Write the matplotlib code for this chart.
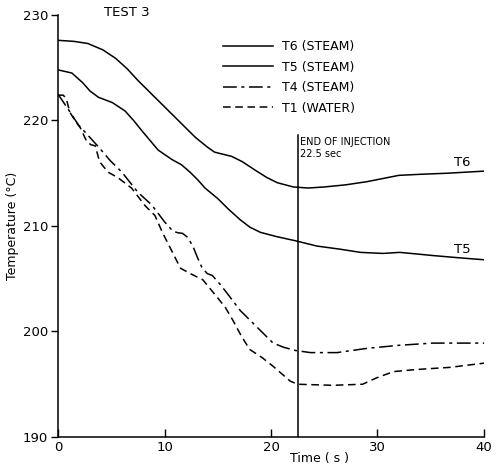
import matplotlib
matplotlib.use("Agg")
import matplotlib.pyplot as plt

plt.rcParams['font.family'] = ['DejaVu Sans']

# ---- data ----
t6 = [0, 1.5, 2.8, 4.2, 5.4, 6.5, 7.5, 8.8, 10.0, 11.5, 12.9, 14.0, 14.7, 15.5,
      16.3, 17.3, 18.5, 19.6, 20.6, 22.1, 23.5, 25, 27, 29, 30.5, 32, 34, 36.5, 40]
T6 = [227.6, 227.5, 227.3, 226.7, 225.9, 224.9, 223.8, 222.5, 221.3, 219.8, 218.4,
      217.5, 217.0, 216.8, 216.6, 216.1, 215.3, 214.6, 214.1, 213.7, 213.6, 213.7,
      213.9, 214.2, 214.5, 214.8, 214.9, 215.0, 215.2]

t5 = [0, 1.3, 2.3, 3.0, 3.8, 5.1, 6.3, 7.1, 7.9, 9.4, 10.7, 11.6, 12.4, 13.1, 13.8,
      15.0, 16.0, 17.1, 18.0, 19.0, 20.5, 22.3, 24.3, 26.5, 28.4, 30.5, 32.1, 35.2,
      37.5, 40]
T5 = [224.8, 224.5, 223.6, 222.8, 222.2, 221.7, 220.9, 220.0, 219.0, 217.2, 216.3,
      215.8, 215.1, 214.4, 213.6, 212.6, 211.6, 210.6, 209.9, 209.4, 209.0, 208.6,
      208.1, 207.8, 207.5, 207.4, 207.5, 207.2, 207.0, 206.8]

t4 = [0, 1.0, 1.9, 2.9, 3.8, 4.9, 6.0, 7.5, 8.8, 10.0, 10.8, 11.3, 11.7, 12.2, 12.7,
      13.1, 13.5, 14.0, 14.5, 15.2, 15.9, 17.1, 18.7, 19.5, 20.2, 21.2, 22.3, 23.7,
      26.2, 29.0, 32.1, 35.2, 40]
T4 = [222.5, 221.0, 219.6, 218.5, 217.5, 216.2, 215.1, 213.2, 212.0, 210.4, 209.5,
      209.35, 209.3, 208.9, 208.0, 207.0, 206.1, 205.5, 205.3, 204.5, 203.6, 202.0,
      200.4, 199.6, 198.9, 198.5, 198.2, 198.0, 198.0, 198.4, 198.7, 198.9, 198.9]

t1 = [0, 0.5, 0.8, 1.1, 1.6, 2.1, 2.7, 3.1, 3.5, 3.9, 4.7, 5.6, 6.9, 8.2, 9.1, 9.8,
      10.5, 11.0, 11.5, 12.4, 13.6, 14.9, 15.7, 16.4, 17.2, 18.0, 19.2, 20.2, 21.0,
      21.8, 22.5, 25.8, 28.6, 29.9, 31.5, 33.7, 36.8, 40]
T1 = [222.4, 222.4, 222.0, 220.8, 220.0, 219.3, 218.0, 217.7, 217.6, 216.1, 215.1,
      214.6, 213.6, 211.9, 211.0, 209.4, 208.0, 207.0, 206.0, 205.5, 204.9, 203.3,
      202.3, 201.1, 199.6, 198.3, 197.5, 196.7, 196.0, 195.3, 195.0, 194.9, 195.0,
      195.6, 196.2, 196.4, 196.6, 197.0]

labels = ["T6 (STEAM)", "T5 (STEAM)", "T4 (STEAM)", "T1 (WATER)"]
x_ticks = [0, 10, 20, 30, 40]
y_ticks = [190, 200, 210, 220, 230]
injection_end = 22.5

# ---- figure ----
fig = plt.figure(figsize=(4.97, 4.69), dpi=100)
ax = fig.add_axes([58/497, 1 - 437/469, 426/497, 422/469])

lw = 1.1
ax.plot(t6, T6, color='black', lw=lw, label=labels[0])
ax.plot(t5, T5, color='black', lw=lw, label=labels[1])
ax.plot(t4, T4, color='black', lw=lw, dashes=(9, 3, 2, 3), label=labels[2])
ax.plot(t1, T1, color='black', lw=lw, dashes=(5, 3), label=labels[3])

ax.plot([injection_end, injection_end], [190, 218.6], color='black', lw=1.1)
ax.text(injection_end + 0.2, 218.0, "END OF INJECTION", fontsize=7, va='center', ha='left')
ax.text(injection_end + 0.2, 216.8, "22.5 sec", fontsize=7, va='center', ha='left')

ax.text(37.2, 216.0, "T6", fontsize=9.5, va='center', ha='left')
ax.text(37.2, 207.8, "T5", fontsize=9.5, va='center', ha='left')
ax.text(6.5, 230.2, "TEST 3", fontsize=9.5, va='center', ha='center')

ax.set_xlim(0, 40)
ax.set_ylim(190, 230)
ax.set_xticks(x_ticks)
ax.set_yticks(y_ticks)
ax.tick_params(axis='x', direction='in', length=6, width=1, labelsize=9.5, pad=3)
ax.tick_params(axis='y', direction='out', length=5, width=1, labelsize=9.5, pad=2)
for s in ['top', 'right']:
    ax.spines[s].set_visible(False)
for s in ['left', 'bottom']:
    ax.spines[s].set_linewidth(1.1)

ax.set_xlabel("Time ( s )", fontsize=9)
ax.xaxis.set_label_coords(0.615, -0.035)
ax.set_ylabel("Temperature (°C)", fontsize=9, labelpad=3)

leg = ax.legend(loc='upper left', bbox_to_anchor=(0.387, 0.94), frameon=False,
                fontsize=9, handlelength=4.0, handletextpad=0.7, labelspacing=0.6,
                borderpad=0, borderaxespad=0)

fig.savefig("out.png", dpi=100)
